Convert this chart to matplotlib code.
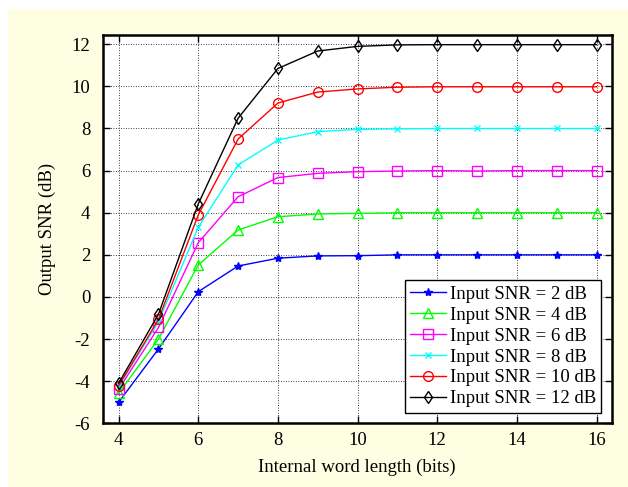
import matplotlib.pyplot as plt
from matplotlib.patches import Rectangle

# Data
word_length = [4, 5, 6, 7, 8, 9, 10, 11, 12, 13, 14, 15, 16]
snr_2db = [-5.0, -2.47, 0.25, 1.47, 1.84, 1.95, 1.96, 2.0, 2.0, 2.0, 2.0, 2.0, 2.0]
snr_4db = [-4.57, -2.0, 1.52, 3.18, 3.81, 3.94, 3.97, 4.0, 4.0, 4.0, 4.0, 4.0, 4.0]
snr_6db = [-4.38, -1.45, 2.58, 4.76, 5.67, 5.87, 5.95, 5.98, 6.0, 5.98, 6.0, 6.0, 6.0]
snr_8db = [-4.25, -1.18, 3.31, 6.27, 7.45, 7.85, 7.96, 7.98, 8.0, 8.0, 8.0, 8.0, 8.0]
snr_10db = [-4.22, -1.07, 3.9, 7.5, 9.21, 9.73, 9.88, 9.96, 9.98, 9.98, 9.98, 9.98, 9.98]
snr_12db = [-4.1, -0.82, 4.42, 8.49, 10.85, 11.68, 11.9, 11.97, 11.98, 11.98, 11.98, 11.98, 11.98]

labels = ['Input SNR = 2 dB', 'Input SNR = 4 dB', 'Input SNR = 6 dB',
          'Input SNR = 8 dB', 'Input SNR = 10 dB', 'Input SNR = 12 dB']
x_ticks = [4, 6, 8, 10, 12, 14, 16]
y_ticks = [-6, -4, -2, 0, 2, 4, 6, 8, 10, 12]

plt.rcParams['font.family'] = ['Liberation Serif', 'DejaVu Serif']
plt.rcParams['font.size'] = 13.5
plt.rcParams['axes.unicode_minus'] = False

fig = plt.figure(figsize=(6.28, 4.87), dpi=100)
fig.patch.set_facecolor('white')
# light yellow panel behind the axes
fig.patches.append(Rectangle((8 / 628, 0), 1, 1 - 9 / 487, transform=fig.transFigure,
                             facecolor='#fefee2', edgecolor='none', zorder=-1))

ax = fig.add_axes([102.7 / 628, 1 - 423.3 / 487, 509 / 628, 388.3 / 487])
ax.set_facecolor('white')

series = [snr_2db, snr_4db, snr_6db, snr_8db, snr_10db, snr_12db]
colors = ['#0000ff', '#00ff00', '#ff00ff', '#00ffff', '#ff0000', '#000000']
markers = ['*', '^', 's', 'x', 'o', 'd']
sizes = [6, 7, 7, 4, 7, 6]

for y, c, m, ms, lab in zip(series, colors, markers, sizes, labels):
    face = c if m in ('*', 'x') else 'none'
    ax.plot(word_length, y, color=c, marker=m, markersize=ms, linewidth=1.0,
            markerfacecolor=face, markeredgecolor=c, markeredgewidth=1.0, label=lab)

ax.set_xlim(3.6, 16.38)
ax.set_ylim(-6, 12.44)
ax.set_xticks(x_ticks)
ax.set_yticks(y_ticks)

ax.grid(True, color='black', linestyle=(0, (1, 2)), linewidth=0.6)
ax.tick_params(direction='in', top=True, right=True, length=5, width=1.0)
ax.tick_params(axis='x', pad=6)
ax.tick_params(axis='y', pad=9)
for s in ax.spines.values():
    s.set_linewidth(1.8)

ax.set_xlabel('Internal word length (bits)', labelpad=7)
ax.set_ylabel('Output SNR (dB)', labelpad=11)

leg = ax.legend(loc='lower right', fancybox=False, framealpha=1, edgecolor='black',
                handlelength=1.9, handletextpad=0.2, borderpad=0.3, labelspacing=0.2,
                borderaxespad=0.55)
leg.get_frame().set_linewidth(1.0)

fig.savefig('out.png', dpi=100)
